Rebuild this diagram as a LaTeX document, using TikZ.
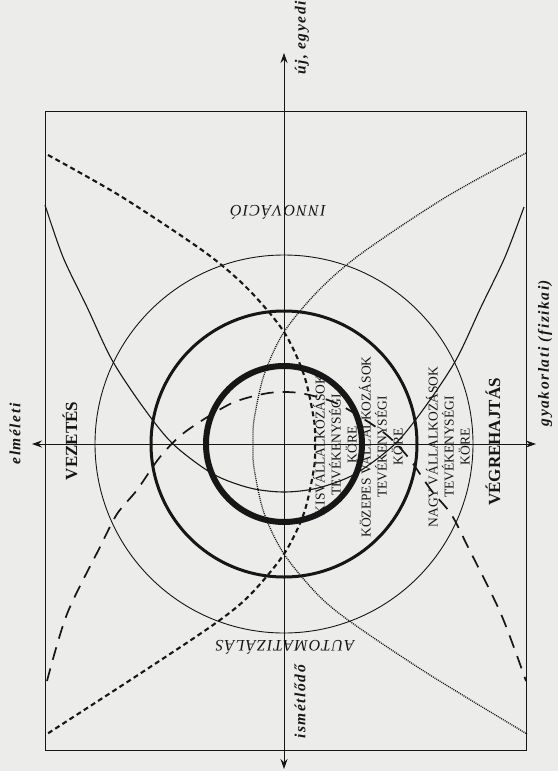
\documentclass[tikz,border=0pt]{standalone}
\usepackage{fontspec}
\setmainfont{Liberation Serif}
\usetikzlibrary{positioning, arrows.meta}
\definecolor{paper}{RGB}{236,236,234}
\definecolor{ink}{RGB}{22,22,22}

\begin{document}
\begin{tikzpicture}[
  x=1pt, y=-1pt,
  axis/.style={{Stealth[length=10pt,width=7pt]}-{Stealth[length=10pt,width=7pt]}, line width=0.9pt, ink},
  axlabel/.style={font={\fontsize{15.5}{15.5}\selectfont\bfseries\itshape\addfontfeature{LetterSpace=10}}, text=ink, inner sep=0pt, rotate=90},
  field/.style={font={\fontsize{17}{17}\selectfont\bfseries}, text=ink, inner sep=0pt, rotate=90},
  mode/.style={font={\fontsize{16}{16}\selectfont\itshape\addfontfeature{LetterSpace=8}}, text=ink, inner sep=0pt, rotate=180},
  circ/.style={font={\fontsize{13.5}{16}\selectfont}, text=ink, align=center, inner sep=0pt, rotate=90},
  solidc/.style={ink, line width=1.1pt},
  longd/.style={ink, line width=1.7pt, dash pattern=on 13pt off 9pt},
  shortd/.style={ink, line width=2.1pt, dash pattern=on 5pt off 3.5pt},
  dotc/.style={ink, line width=1.3pt, dash pattern=on 1pt off 1pt}
]
  \fill[paper] (0,0) rectangle (558,771);
  \useasboundingbox (0,0) rectangle (558,771);

  \coordinate (o) at (284,444);
  \coordinate (top) at (284,53);
  \coordinate (bot) at (284,769);
  \coordinate (lft) at (32,444);
  \coordinate (rgt) at (536,444);

  \draw[ink, line width=0.7pt] (45,111) rectangle (526,750);

  \draw[axis] (bot) -- (top);
  \draw[axis] (lft) -- (rgt);

  \draw[ink, line width=0.9pt] (o) circle[radius=189pt];
  \draw[ink, line width=3pt] (o) circle[radius=133pt];
  \draw[ink, line width=6pt] (o) circle[radius=78pt];

  \draw[solidc] plot[smooth] coordinates {(45,205) (63,257) (87,307) (112,360) (143,407)
    (173,444) (213,474) (250,488) (284,492) (318,488) (355,474) (395,444) (425,407)
    (456,360) (481,307) (505,257) (524,207)};
  \draw[longd] plot[smooth] coordinates {(47,681) (67,614) (100,547) (117,514) (137,490)
    (160,457) (185,432) (230,404) (263,394) (284,392) (305,394) (338,404) (383,432)
    (408,457) (431,490) (451,514) (468,547) (501,614) (526,681)};
  \draw[dotc] plot[smooth] coordinates {(526,153) (446,197) (362,253) (319,290) (284,332)
    (264,375) (254,420) (253,444) (254,468) (264,513) (284,554) (319,596) (355,625)
    (430,675) (527,734)};
  \draw[shortd] plot[smooth] coordinates {(48,155) (122,197) (206,253) (249,290) (284,332)
    (304,375) (314,420) (315,444) (314,468) (304,513) (284,554) (249,596) (213,625)
    (138,675) (47,734)};

  \node[axlabel] (uj) at (302,38) {új, egyedi};
  \node[axlabel] (elm) at (15,434) {elméleti};
  \node[axlabel] (gyak) at (545,353) {gyakorlati (fizikai)};
  \node[axlabel] (ism) at (300,702) {ismétlődő};

  \node[field] (vez) at (70,441) {VEZETÉS};
  \node[field] (vegr) at (493,442) {VÉGREHAJTÁS};

  \node[mode] (innov) at (278,212) {INNOVÁCIÓ};
  \node[mode] (auto) at (285,647) {AUTOMATIZÁLÁS};

  \node[circ] (kis) at (335,445) {KISVÁLLALKOZÁSOK\\TEVÉKENYSÉGI\\KÖRE};
  \node[circ] (koz) at (381,447) {KÖZEPES VÁLLALKOZÁSOK\\TEVÉKENYSÉGI\\KÖRE};
  \node[circ] (nagy) at (448,447) {NAGY VÁLLALKOZÁSOK\\TEVÉKENYSÉGI\\KÖRE};
\end{tikzpicture}
\end{document}
